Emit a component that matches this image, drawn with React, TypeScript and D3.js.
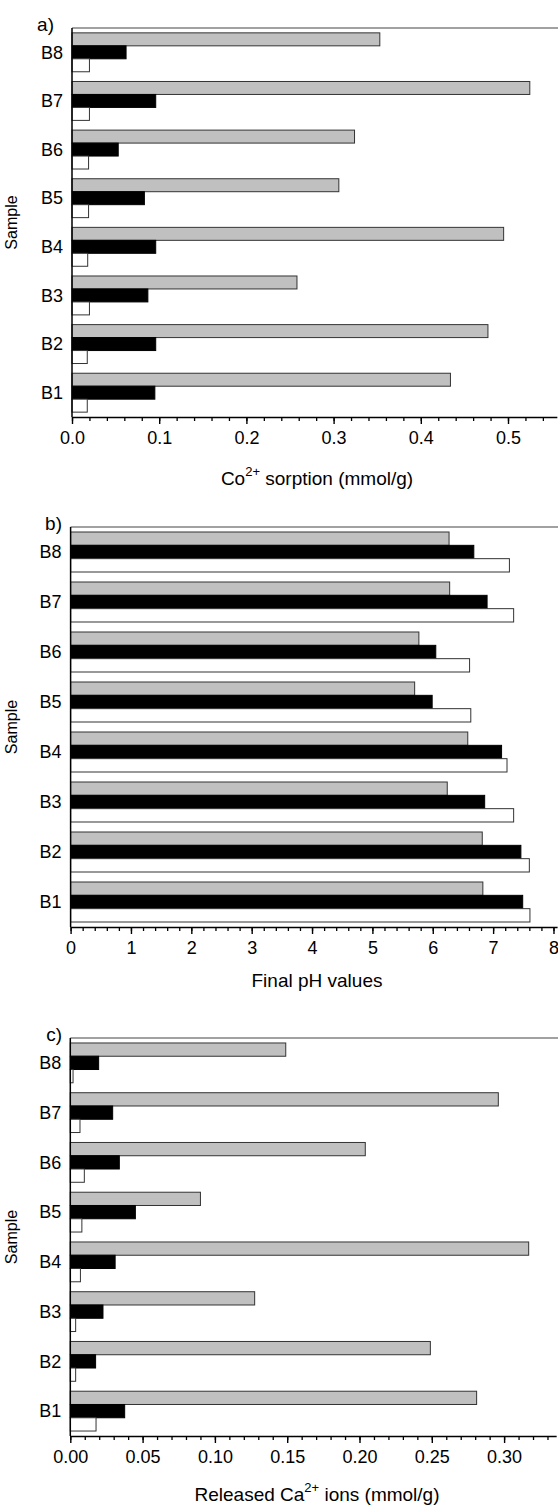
import React, { useEffect, useRef } from "react";
import * as d3 from "d3";

// samples, bottom to top
const samples = ["B1", "B2", "B3", "B4", "B5", "B6", "B7", "B8"];

// a) Co2+ sorption (mmol/g)
const sorptionGray = [0.434, 0.477, 0.258, 0.495, 0.306, 0.324, 0.525, 0.353];
const sorptionBlack = [0.095, 0.096, 0.087, 0.096, 0.083, 0.053, 0.096, 0.062];
const sorptionWhite = [0.0175, 0.0175, 0.02, 0.018, 0.019, 0.019, 0.02, 0.02];

// b) final pH values
const phGray = [6.83, 6.82, 6.24, 6.58, 5.7, 5.77, 6.28, 6.27];
const phBlack = [7.49, 7.46, 6.86, 7.14, 5.99, 6.05, 6.9, 6.68];
const phWhite = [7.61, 7.6, 7.34, 7.23, 6.63, 6.61, 7.34, 7.27];

// c) released Ca2+ ions (mmol/g)
const caGray = [0.281, 0.249, 0.1275, 0.317, 0.09, 0.204, 0.296, 0.149];
const caBlack = [0.0376, 0.0175, 0.0226, 0.031, 0.045, 0.0339, 0.0293, 0.0196];
const caWhite = [0.0178, 0.0037, 0.0037, 0.007, 0.008, 0.0097, 0.0067, 0.0019];

const aTicks = [0, 0.1, 0.2, 0.3, 0.4, 0.5];
const bTicks = [0, 1, 2, 3, 4, 5, 6, 7, 8];
const cTicks = [0, 0.05, 0.1, 0.15, 0.2, 0.25, 0.3];

const FONT = "'Liberation Sans', Arial, sans-serif";
const W = 558;
const H = 1506;

function drawPanel(svg, p) {
  const g = svg.append("g");
  const right = W;

  const x = d3.scaleLinear().domain([0, p.xMax]).range([p.left, p.left + (p.xMax) * p.pxPerUnit]);
  const y = d3.scaleBand()
    .domain(samples.slice().reverse())
    .range([p.top, p.bottom])
    .paddingInner(0.2)
    .paddingOuter(0.1);
  const series = ["gray", "black", "white"];
  const ySub = d3.scaleBand().domain(series).range([0, y.bandwidth()]);

  const fills = { gray: "#c0c0c0", black: "#000000", white: "#ffffff" };
  const values = { gray: p.gray, black: p.black, white: p.white };

  // bars
  series.forEach((s) => {
    g.append("g")
      .selectAll("rect")
      .data(samples.map((d, i) => ({ name: d, v: values[s][i] })))
      .join("rect")
      .attr("x", x(0))
      .attr("y", (d) => y(d.name) + ySub(s))
      .attr("width", (d) => x(d.v) - x(0))
      .attr("height", ySub.bandwidth())
      .attr("fill", fills[s])
      .attr("stroke", s === "black" ? "#000" : "#333")
      .attr("stroke-width", 1);
  });

  // top frame line
  g.append("line")
    .attr("x1", p.left).attr("x2", right)
    .attr("y1", p.top).attr("y2", p.top)
    .attr("stroke", "#444").attr("stroke-width", 1.2);

  // left axis line
  g.append("line")
    .attr("x1", p.left).attr("x2", p.left)
    .attr("y1", p.top).attr("y2", p.bottom)
    .attr("stroke", "#000").attr("stroke-width", 1.5);

  // category labels
  g.append("g")
    .selectAll("text")
    .data(samples)
    .join("text")
    .attr("x", p.left - 9)
    .attr("y", (d) => y(d) + y.bandwidth() / 2)
    .attr("dy", "0.35em")
    .attr("text-anchor", "end")
    .attr("font-family", FONT)
    .attr("font-size", 18)
    .text((d) => d);

  // minor ticks
  const minor = d3.range(0, p.xMax + 1e-9, p.minorStep).filter((v) => x(v) <= right);
  g.append("g")
    .attr("transform", `translate(0,${p.bottom})`)
    .call(d3.axisBottom(x).tickValues(minor).tickSize(4).tickSizeOuter(0).tickFormat(() => ""))
    .call((a) => a.select(".domain").remove())
    .selectAll("line").attr("stroke-width", 1.3);

  // major axis
  const ax = g.append("g")
    .attr("transform", `translate(0,${p.bottom})`)
    .call(d3.axisBottom(x).tickValues(p.ticks).tickSize(7).tickSizeOuter(0).tickPadding(7).tickFormat(d3.format(p.fmt)));
  ax.select(".domain").attr("stroke-width", 1.6);
  ax.selectAll("line").attr("stroke-width", 1.4);
  ax.selectAll("text").attr("font-family", FONT).attr("font-size", 18).attr("fill", "#000");

  // panel letter
  g.append("text")
    .attr("x", p.letterX)
    .attr("y", p.top + 3)
    .attr("text-anchor", "end")
    .attr("font-family", FONT)
    .attr("font-size", 19)
    .text(p.letter);

  // y title
  const mid = (p.top + p.bottom) / 2;
  g.append("text")
    .attr("transform", `translate(17,${mid}) rotate(-90)`)
    .attr("text-anchor", "middle")
    .attr("font-family", FONT)
    .attr("font-size", 16)
    .text("Sample");

  // x title
  const t = g.append("text")
    .attr("x", 317)
    .attr("y", p.titleY)
    .attr("text-anchor", "middle")
    .attr("font-family", FONT)
    .attr("font-size", 19);
  t.append("tspan").text(p.title[0]);
  if (p.title.length > 1) {
    t.append("tspan").attr("font-size", 13).attr("dy", -9).text(p.title[1]);
    t.append("tspan").attr("dy", 9).text(p.title[2]);
  }
}

export default function App() {
  const ref = useRef(null);

  useEffect(() => {
    const svg = d3.select(ref.current);
    svg.selectAll("*").remove();

    drawPanel(svg, {
      letter: "a)", letterX: 54,
      left: 72, top: 28, bottom: 417,
      xMax: 0.556, pxPerUnit: 872,
      ticks: aTicks, minorStep: 0.02, fmt: ".1f",
      gray: sorptionGray, black: sorptionBlack, white: sorptionWhite,
      title: ["Co", "2+", " sorption (mmol/g)"], titleY: 485,
    });

    drawPanel(svg, {
      letter: "b)", letterX: 62,
      left: 70.6, top: 527, bottom: 927,
      xMax: 8.06, pxPerUnit: 60.36,
      ticks: bTicks, minorStep: 0.2, fmt: "d",
      gray: phGray, black: phBlack, white: phWhite,
      title: ["Final pH values"], titleY: 987,
    });

    drawPanel(svg, {
      letter: "c)", letterX: 62,
      left: 70.3, top: 1038, bottom: 1436,
      xMax: 0.336, pxPerUnit: 1446,
      ticks: cTicks, minorStep: 0.01, fmt: ".2f",
      gray: caGray, black: caBlack, white: caWhite,
      title: ["Released Ca", "2+", " ions (mmol/g)"], titleY: 1501,
    });
  }, []);

  return (
    <svg
      ref={ref}
      width={W}
      height={H}
      style={{ position: "absolute", left: 0, top: 0, background: "#fff" }}
    />
  );
}
